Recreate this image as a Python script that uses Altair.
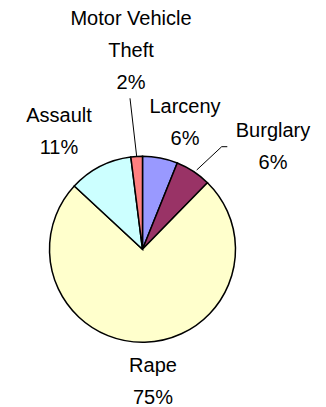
import altair as alt
import pandas as pd

# ---- data ----
categories = ["Larceny", "Burglary", "Rape", "Assault", "Motor Vehicle Theft"]
values = [6.1, 6.2, 74.6, 11.1, 2.0]
label_names = ["Larceny", "Burglary", "Rape", "Assault", "Motor Vehicle\nTheft"]
colors = ["#9999FF", "#993366", "#FFFFCC", "#CCFFFF", "#FF8080"]

# ---- layout (plot-area pixels) ----
W, H = 310, 399
CX, CY, R = 134.5, 241.3, 93
label_x = [177, 265, 145, 51, 123]
label_y = [105, 129, 364, 114, 17]
leaders = [  # x, y, x2, y2
    (122, 90.3, 128.7, 148.5),
    (188.7, 162, 213.7, 138.7),
    (213.7, 138.7, 219.3, 138.7),
]

total = sum(values)
df = pd.DataFrame({
    "category": categories,
    "value": values,
    "order": list(range(len(categories))),
})
lab = pd.DataFrame({
    "category": categories,
    "label": [f"{n}\n{round(v / total * 100)}%" for n, v in zip(label_names, values)],
    "lx": label_x,
    "ly": label_y,
})
ld = pd.DataFrame(leaders, columns=["x", "y", "x2", "y2"])

pie = alt.Chart(df).mark_arc(radius=R, stroke="black", strokeWidth=1.5).encode(
    theta=alt.Theta("value:Q", stack=True),
    order=alt.Order("order:Q"),
    color=alt.Color("category:N", scale=alt.Scale(domain=categories, range=colors), legend=None),
    x=alt.value(CX),
    y=alt.value(CY),
)

text = alt.Chart(lab).mark_text(
    font="Liberation Sans", fontSize=20, lineBreak="\n", lineHeight=32,
    align="center", baseline="alphabetic", color="black",
).encode(
    x=alt.X("lx:Q", scale=None),
    y=alt.Y("ly:Q", scale=None),
    text="label:N",
)

lines = alt.Chart(ld).mark_rule(color="black", strokeWidth=1).encode(
    x=alt.X("x:Q", scale=None),
    y=alt.Y("y:Q", scale=None),
    x2="x2:Q",
    y2="y2:Q",
)

chart = alt.layer(lines, pie, text).properties(
    width=W, height=H, padding=0, autosize=alt.AutoSizeParams(type="none"),
).configure_view(stroke=None)

chart.save("out.html", embed_options={"renderer": "svg", "actions": False})
